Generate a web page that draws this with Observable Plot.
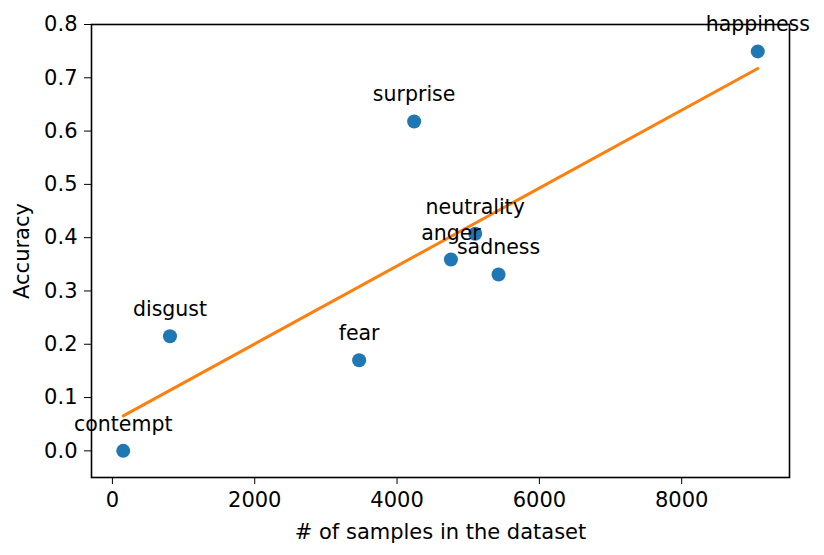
<!DOCTYPE html>
<html>
<head>
<meta charset="utf-8">
<script src="https://cdn.jsdelivr.net/npm/d3@7"></script>
<script src="https://cdn.jsdelivr.net/npm/@observablehq/plot@0.6"></script>
<style>
  html, body { margin: 0; padding: 0; background: #fff; }
</style>
</head>
<body>
<div id="chart"></div>
<script>
const emotions = ["contempt", "disgust", "fear", "surprise", "anger", "neutrality", "sadness", "happiness"];
const samples  = [152, 809, 3467, 4240, 4757, 5098, 5426, 9069];
const accuracy = [0.0, 0.215, 0.170, 0.618, 0.359, 0.4075, 0.331, 0.7495];
const xTicks = [0, 2000, 4000, 6000, 8000];
const yTicks = [0.0, 0.1, 0.2, 0.3, 0.4, 0.5, 0.6, 0.7, 0.8];

const data = emotions.map((e, i) => ({emotion: e, samples: samples[i], accuracy: accuracy[i]}));

const xMin = d3.min(samples), xMax = d3.max(samples), xPad = (xMax - xMin) * 0.05;

const chart = Plot.plot({
  width: 824,
  height: 555,
  marginLeft: 91,
  marginRight: 35,
  marginTop: 24,
  marginBottom: 78,
  style: {fontFamily: "DejaVu Sans", fontSize: "21px", color: "black", background: "white"},
  x: {domain: [xMin - xPad, xMax + xPad]},
  y: {domain: [-0.05, 0.8]},
  marks: [
    Plot.axisX({ticks: xTicks, tickFormat: d => String(d), tickSize: 7, tickPadding: 8, fontSize: 21,
      label: "# of samples in the dataset", labelAnchor: "center", labelArrow: "none", labelOffset: 61}),
    Plot.axisY({ticks: yTicks, tickFormat: d => d.toFixed(1), tickSize: 7, tickPadding: 7, fontSize: 21,
      label: "Accuracy", labelAnchor: "center", labelArrow: "none", labelOffset: 77}),
    Plot.dot(data, {x: "samples", y: "accuracy", r: 7, fill: "#1f77b4", stroke: "none"}),
    Plot.linearRegressionY(data, {x: "samples", y: "accuracy", ci: 0, stroke: "#ff7f0e", strokeWidth: 3}),
    Plot.frame({stroke: "black", strokeWidth: 1.6}),
    Plot.text(data, {x: "samples", y: "accuracy", text: "emotion", dy: -20, lineAnchor: "bottom",
      textAnchor: "middle", fontSize: 20.5, fill: "black"})
  ]
});
document.getElementById("chart").appendChild(chart);
</script>
</body>
</html>
